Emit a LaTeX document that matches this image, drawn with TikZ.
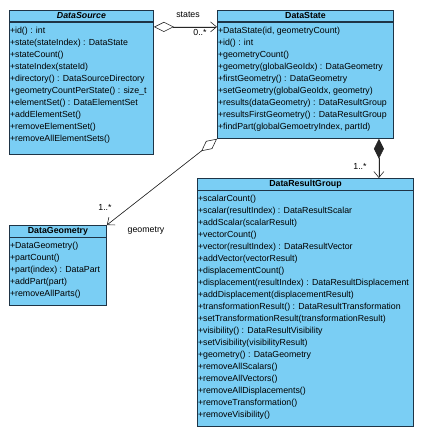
\documentclass[tikz,border=0pt]{standalone}
\usepackage{fontspec}
\setmainfont{Liberation Sans}
\usepackage{xcolor}
\usetikzlibrary{arrows.meta}
\usetikzlibrary{positioning}
\definecolor{classfill}{RGB}{122,206,244}
\definecolor{classline}{RGB}{30,52,70}
\tikzset{
    boxnode/.style = {rectangle, draw=classline, fill=classfill, inner sep=0pt, line width=0.9pt},
    head_node/.style = {boxnode, minimum height=11.5pt, font=\fontsize{8.8}{12}\selectfont\bfseries},
    body_node/.style = {boxnode},
    ops_node/.style = {align=left, anchor=north west, inner xsep=0.8pt, inner ysep=0pt, yshift=-5pt, font=\fontsize{8.8}{12}\selectfont},
    lbl/.style = {inner sep=0pt, font=\fontsize{8.8}{10}\selectfont},
    assoc/.style = {line width=0.6pt, draw=black!85, fill=black}
}

\begin{document}
\begin{tikzpicture}
            [x=1pt, y=-1pt,
            agg/.style={{Diamond[open,length=20pt,width=10pt]}-{Straight Barb[length=6pt,width=10pt]}},
            comp/.style={{Diamond[length=20pt,width=10pt]}-{Straight Barb[length=6pt,width=10pt]}}]

            \useasboundingbox (0,0) rectangle (425,437);

            % DataSource
            \node [head_node, anchor=north west, minimum width=144pt] (ds) at (9,9.5) {\itshape DataSource};
            \node [body_node, minimum width=144pt, minimum height=132pt, below=0pt of ds] (ds_body) {};
            \node [ops_node] (ds_ops) at (ds_body.north west) {%
                +id() : int\\
                +state(stateIndex) : DataState\\
                +stateCount()\\
                +stateIndex(stateId)\\
                +directory() : DataSourceDirectory\\
                +geometryCountPerState() : size\_t\\
                +elementSet() : DataElementSet\\
                +addElementSet()\\
                +removeElementSet()\\
                +removeAllElementSets()};

            % DataState
            \node [head_node, anchor=north west, minimum width=176pt] (dst) at (217,9.5) {DataState};
            \node [body_node, minimum width=176pt, minimum height=116pt, below=0pt of dst] (dst_body) {};
            \node [ops_node] (dst_ops) at (dst_body.north west) {%
                +DataState(id, geometryCount)\\
                +id() : int\\
                +geometryCount()\\
                +geometry(globalGeoIdx) : DataGeometry\\
                +firstGeometry() : DataGeometry\\
                +setGeometry(globalGeoIdx, geometry)\\
                +results(dataGeometry) : DataResultGroup\\
                +resultsFirstGeometry() : DataResultGroup\\
                +findPart(globalGemoetryIndex, partId)};

            % DataResultGroup
            \node [head_node, anchor=north west, minimum width=216pt] (drg) at (197,178) {DataResultGroup};
            \node [body_node, minimum width=216pt, minimum height=235.5pt, below=0pt of drg] (drg_body) {};
            \node [ops_node] (drg_ops) at (drg_body.north west) {%
                +scalarCount()\\
                +scalar(resultIndex) : DataResultScalar\\
                +addScalar(scalarResult)\\
                +vectorCount()\\
                +vector(resultIndex) : DataResultVector\\
                +addVector(vectorResult)\\
                +displacementCount()\\
                +displacement(resultIndex) : DataResultDisplacement\\
                +addDisplacement(displacementResult)\\
                +transformationResult() : DataResultTransformation\\
                +setTransformationResult(transformationResult)\\
                +visibility() : DataResultVisibility\\
                +setVisibility(visibilityResult)\\
                +geometry() : DataGeometry\\
                +removeAllScalars()\\
                +removeAllVectors()\\
                +removeAllDisplacements()\\
                +removeTransformation()\\
                +removeVisibility()};

            % DataGeometry
            \node [head_node, anchor=north west, minimum width=97pt] (dg) at (9,225) {DataGeometry};
            \node [body_node, minimum width=97pt, minimum height=68pt, below=0pt of dg] (dg_body) {};
            \node [ops_node] (dg_ops) at (dg_body.north west) {%
                +DataGeometry()\\
                +partCount()\\
                +part(index) : DataPart\\
                +addPart(part)\\
                +removeAllParts()};

            % associations
            \draw [assoc, agg] ([yshift=-5pt]ds_body.north east) -- ([yshift=-5pt]dst_body.north west);
            \draw [assoc, comp] ([xshift=-15pt]dst_body.south east) -- ([xshift=-35pt]drg.north east);
            \draw [assoc, agg] (dst_body.south west) -- (dg.north east);

            \node [lbl] (states) at (188,15) {states};
            \node [lbl] (states_mult) at (200,32) {0..*};
            \node [lbl] (results_mult) at (360,166) {1..*};
            \node [lbl] (geo_mult) at (105,207) {1..*};
            \node [lbl] (geo) at (146,231) {geometry};
\end{tikzpicture}
\end{document}
